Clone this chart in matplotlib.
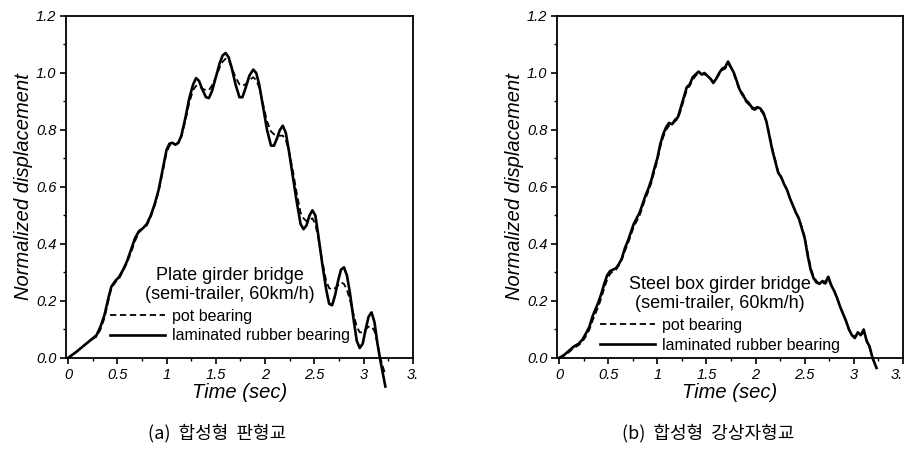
import matplotlib
matplotlib.use("Agg")
import matplotlib.pyplot as plt
from matplotlib.ticker import MultipleLocator

# --------------------------------------------------
# Data
# --------------------------------------------------
# (a) plate girder bridge
t_a = [0, 0.08, 0.15, 0.22, 0.29, 0.33, 0.37, 0.41, 0.44, 0.48, 0.52, 0.56, 0.60,
       0.64, 0.68, 0.72, 0.76, 0.80, 0.84, 0.88, 0.92, 0.96, 1.00, 1.03, 1.06, 1.09,
       1.12, 1.15, 1.19, 1.23, 1.27, 1.30, 1.33, 1.36, 1.40, 1.43, 1.46, 1.50, 1.54,
       1.57, 1.60, 1.63, 1.66, 1.70, 1.74, 1.77, 1.80, 1.84, 1.88, 1.91, 1.94, 1.98,
       2.02, 2.06, 2.09, 2.12, 2.15, 2.18, 2.21, 2.24, 2.28, 2.32, 2.36, 2.39, 2.42,
       2.45, 2.48, 2.51, 2.54, 2.58, 2.62, 2.65, 2.68, 2.71, 2.74, 2.77, 2.80, 2.83,
       2.86, 2.90, 2.93, 2.96, 2.99, 3.02, 3.05, 3.08, 3.11, 3.14, 3.17, 3.22]
rubber_a = [0, 0.02, 0.04, 0.06, 0.08, 0.11, 0.15, 0.21, 0.25, 0.27, 0.285, 0.31, 0.34,
            0.38, 0.42, 0.445, 0.455, 0.47, 0.50, 0.54, 0.59, 0.66, 0.73, 0.752, 0.755, 0.748,
            0.755, 0.78, 0.84, 0.91, 0.96, 0.982, 0.972, 0.945, 0.915, 0.912, 0.935, 0.985, 1.035,
            1.062, 1.07, 1.055, 1.02, 0.96, 0.915, 0.915, 0.945, 0.99, 1.012, 1.0, 0.96, 0.88,
            0.80, 0.745, 0.745, 0.77, 0.80, 0.815, 0.79, 0.73, 0.64, 0.55, 0.47, 0.452, 0.465,
            0.50, 0.518, 0.50, 0.43, 0.33, 0.24, 0.19, 0.185, 0.22, 0.27, 0.31, 0.318, 0.29,
            0.23, 0.13, 0.06, 0.035, 0.05, 0.10, 0.145, 0.16, 0.125, 0.05, -0.01, -0.10]
pot_a = [0, 0.02, 0.04, 0.06, 0.075, 0.10, 0.14, 0.20, 0.245, 0.265, 0.28, 0.305, 0.335,
         0.37, 0.41, 0.44, 0.455, 0.465, 0.495, 0.535, 0.585, 0.65, 0.72, 0.745, 0.752, 0.75,
         0.755, 0.775, 0.83, 0.895, 0.94, 0.955, 0.955, 0.945, 0.94, 0.94, 0.955, 0.985, 1.02,
         1.04, 1.05, 1.045, 1.02, 0.985, 0.96, 0.955, 0.96, 0.975, 0.985, 0.975, 0.95, 0.89,
         0.83, 0.795, 0.785, 0.78, 0.78, 0.78, 0.765, 0.73, 0.66, 0.58, 0.51, 0.49, 0.48,
         0.485, 0.49, 0.47, 0.42, 0.34, 0.27, 0.245, 0.24, 0.245, 0.255, 0.265, 0.26, 0.24,
         0.205, 0.15, 0.11, 0.09, 0.09, 0.10, 0.11, 0.11, 0.095, 0.05, 0.0, -0.06]

# (b) steel box girder bridge
t_b = [0, 0.05, 0.10, 0.15, 0.20, 0.24, 0.28, 0.31, 0.34, 0.37, 0.40, 0.43, 0.46, 0.49,
       0.52, 0.55, 0.58, 0.61, 0.64, 0.67, 0.70, 0.73, 0.76, 0.79, 0.82, 0.85, 0.88, 0.91,
       0.94, 0.97, 1.00, 1.03, 1.06, 1.09, 1.12, 1.15, 1.18, 1.21, 1.24, 1.27, 1.30, 1.33,
       1.36, 1.39, 1.42, 1.45, 1.48, 1.51, 1.54, 1.57, 1.60, 1.63, 1.66, 1.69, 1.72, 1.75,
       1.78, 1.81, 1.84, 1.87, 1.90, 1.93, 1.96, 1.99, 2.02, 2.05, 2.08, 2.11, 2.14, 2.17,
       2.20, 2.23, 2.26, 2.29, 2.32, 2.35, 2.38, 2.41, 2.44, 2.47, 2.50, 2.53, 2.56, 2.59,
       2.62, 2.65, 2.68, 2.71, 2.74, 2.77, 2.80, 2.83, 2.86, 2.89, 2.92, 2.95, 2.98, 3.01,
       3.04, 3.07, 3.10, 3.13, 3.16, 3.19, 3.23]
rubber_b = [0, 0.01, 0.025, 0.04, 0.05, 0.065, 0.09, 0.11, 0.145, 0.17, 0.195, 0.225, 0.26, 0.29,
            0.305, 0.31, 0.315, 0.33, 0.35, 0.385, 0.41, 0.44, 0.47, 0.49, 0.51, 0.54, 0.57, 0.595,
            0.625, 0.665, 0.70, 0.75, 0.785, 0.81, 0.825, 0.82, 0.835, 0.845, 0.88, 0.915, 0.95, 0.96,
            0.985, 0.995, 1.005, 0.995, 1.0, 0.99, 0.98, 0.965, 0.98, 1.0, 1.015, 1.02, 1.04, 1.02,
            1.0, 0.97, 0.94, 0.925, 0.905, 0.895, 0.88, 0.875, 0.88, 0.875, 0.86, 0.83, 0.78, 0.73,
            0.69, 0.65, 0.635, 0.61, 0.59, 0.56, 0.535, 0.51, 0.49, 0.455, 0.42, 0.36, 0.31, 0.28,
            0.265, 0.26, 0.27, 0.265, 0.285, 0.255, 0.235, 0.21, 0.18, 0.155, 0.13, 0.10, 0.08, 0.07,
            0.09, 0.08, 0.10, 0.06, 0.04, 0.0, -0.035]
pot_b = [0, 0.008, 0.02, 0.035, 0.045, 0.058, 0.08, 0.10, 0.13, 0.155, 0.18, 0.21, 0.245, 0.275,
         0.295, 0.305, 0.31, 0.325, 0.345, 0.375, 0.40, 0.43, 0.46, 0.48, 0.50, 0.53, 0.56, 0.585,
         0.615, 0.655, 0.69, 0.74, 0.775, 0.80, 0.815, 0.82, 0.83, 0.84, 0.87, 0.905, 0.94, 0.955,
         0.975, 0.99, 1.0, 0.995, 0.995, 0.99, 0.98, 0.97, 0.98, 0.995, 1.01, 1.015, 1.03, 1.02,
         0.995, 0.965, 0.935, 0.92, 0.9, 0.89, 0.875, 0.87, 0.875, 0.87, 0.855, 0.83, 0.785, 0.735,
         0.695, 0.655, 0.635, 0.61, 0.59, 0.56, 0.535, 0.51, 0.49, 0.46, 0.425, 0.37, 0.32, 0.285,
         0.27, 0.26, 0.265, 0.26, 0.275, 0.255, 0.235, 0.21, 0.18, 0.155, 0.13, 0.10, 0.08, 0.075,
         0.085, 0.08, 0.09, 0.06, 0.035, 0.0, -0.03]

x_ticks = [0, 0.5, 1, 1.5, 2, 2.5, 3, 3.5]
x_labels = ["0", "0.5", "1", "1.5", "2", "2.5", "3", "3."]
y_ticks = [0.0, 0.2, 0.4, 0.6, 0.8, 1.0, 1.2]

titles = ["Plate girder bridge\n(semi-trailer, 60km/h)",
          "Steel box girder bridge\n(semi-trailer, 60km/h)"]
captions = ["(a)  합성형  판형교", "(b)  합성형  강상자형교"]

plt.rcParams["font.family"] = ["Liberation Sans", "DejaVu Sans"]

fig = plt.figure(figsize=(9.05, 4.54), dpi=100)
ax_a = fig.add_axes([0.0729, 0.2115, 0.3834, 0.7533])
ax_b = fig.add_axes([0.6155, 0.2115, 0.3823, 0.7533])

panels = [
    (ax_a, t_a, pot_a, rubber_a, titles[0], (0.473, 0.033)),
    (ax_b, t_b, pot_b, rubber_b, titles[1], (0.471, 0.006)),
]

for ax, t, pot, rubber, title, anchor in panels:
    ax.plot(t, pot, "k--", lw=1.3, dashes=(3.5, 2), label="pot bearing", clip_on=False)
    ax.plot(t, rubber, "k-", lw=1.9, label="laminated rubber bearing", clip_on=False)

    ax.set_xlim(-0.02, 3.5)
    ax.set_ylim(0, 1.2)
    ax.set_xticks(x_ticks)
    ax.set_xticklabels(x_labels, fontstyle="italic", fontsize=10.5)
    ax.set_yticks(y_ticks)
    ax.set_yticklabels([f"{v:.1f}" for v in y_ticks], fontstyle="italic", fontsize=10.5)
    ax.xaxis.set_minor_locator(MultipleLocator(0.25))
    ax.yaxis.set_minor_locator(MultipleLocator(0.1))
    ax.tick_params(which="major", direction="out", length=4, width=1.2, pad=3)
    ax.tick_params(which="minor", direction="out", length=2.5, width=1)
    for s in ax.spines.values():
        s.set_linewidth(1.3)

    ax.set_xlabel("Time (sec)", fontsize=14.5, fontstyle="italic", labelpad=1)
    ax.set_ylabel("Normalized displacement", fontsize=14.5, fontstyle="italic", labelpad=2)

    leg = ax.legend(loc="lower center", bbox_to_anchor=anchor, frameon=False,
                    title=title, title_fontsize=13, fontsize=11.5,
                    handlelength=3.4, handletextpad=0.45, labelspacing=0.3,
                    borderaxespad=0, borderpad=0.2)
    leg.get_title().set_multialignment("center")
    leg._legend_box.sep = 4

# the right panel's last tick label is cut by the picture edge in the reference
ax_b.get_xticklabels()[-1].set_horizontalalignment("right")

fig.text(0.24, 0.047, captions[0], ha="center", va="center", fontsize=13,
         family=["Noto Sans CJK KR", "DejaVu Sans"])
fig.text(0.782, 0.047, captions[1], ha="center", va="center", fontsize=13,
         family=["Noto Sans CJK KR", "DejaVu Sans"])

fig.savefig("out.png", dpi=100)
